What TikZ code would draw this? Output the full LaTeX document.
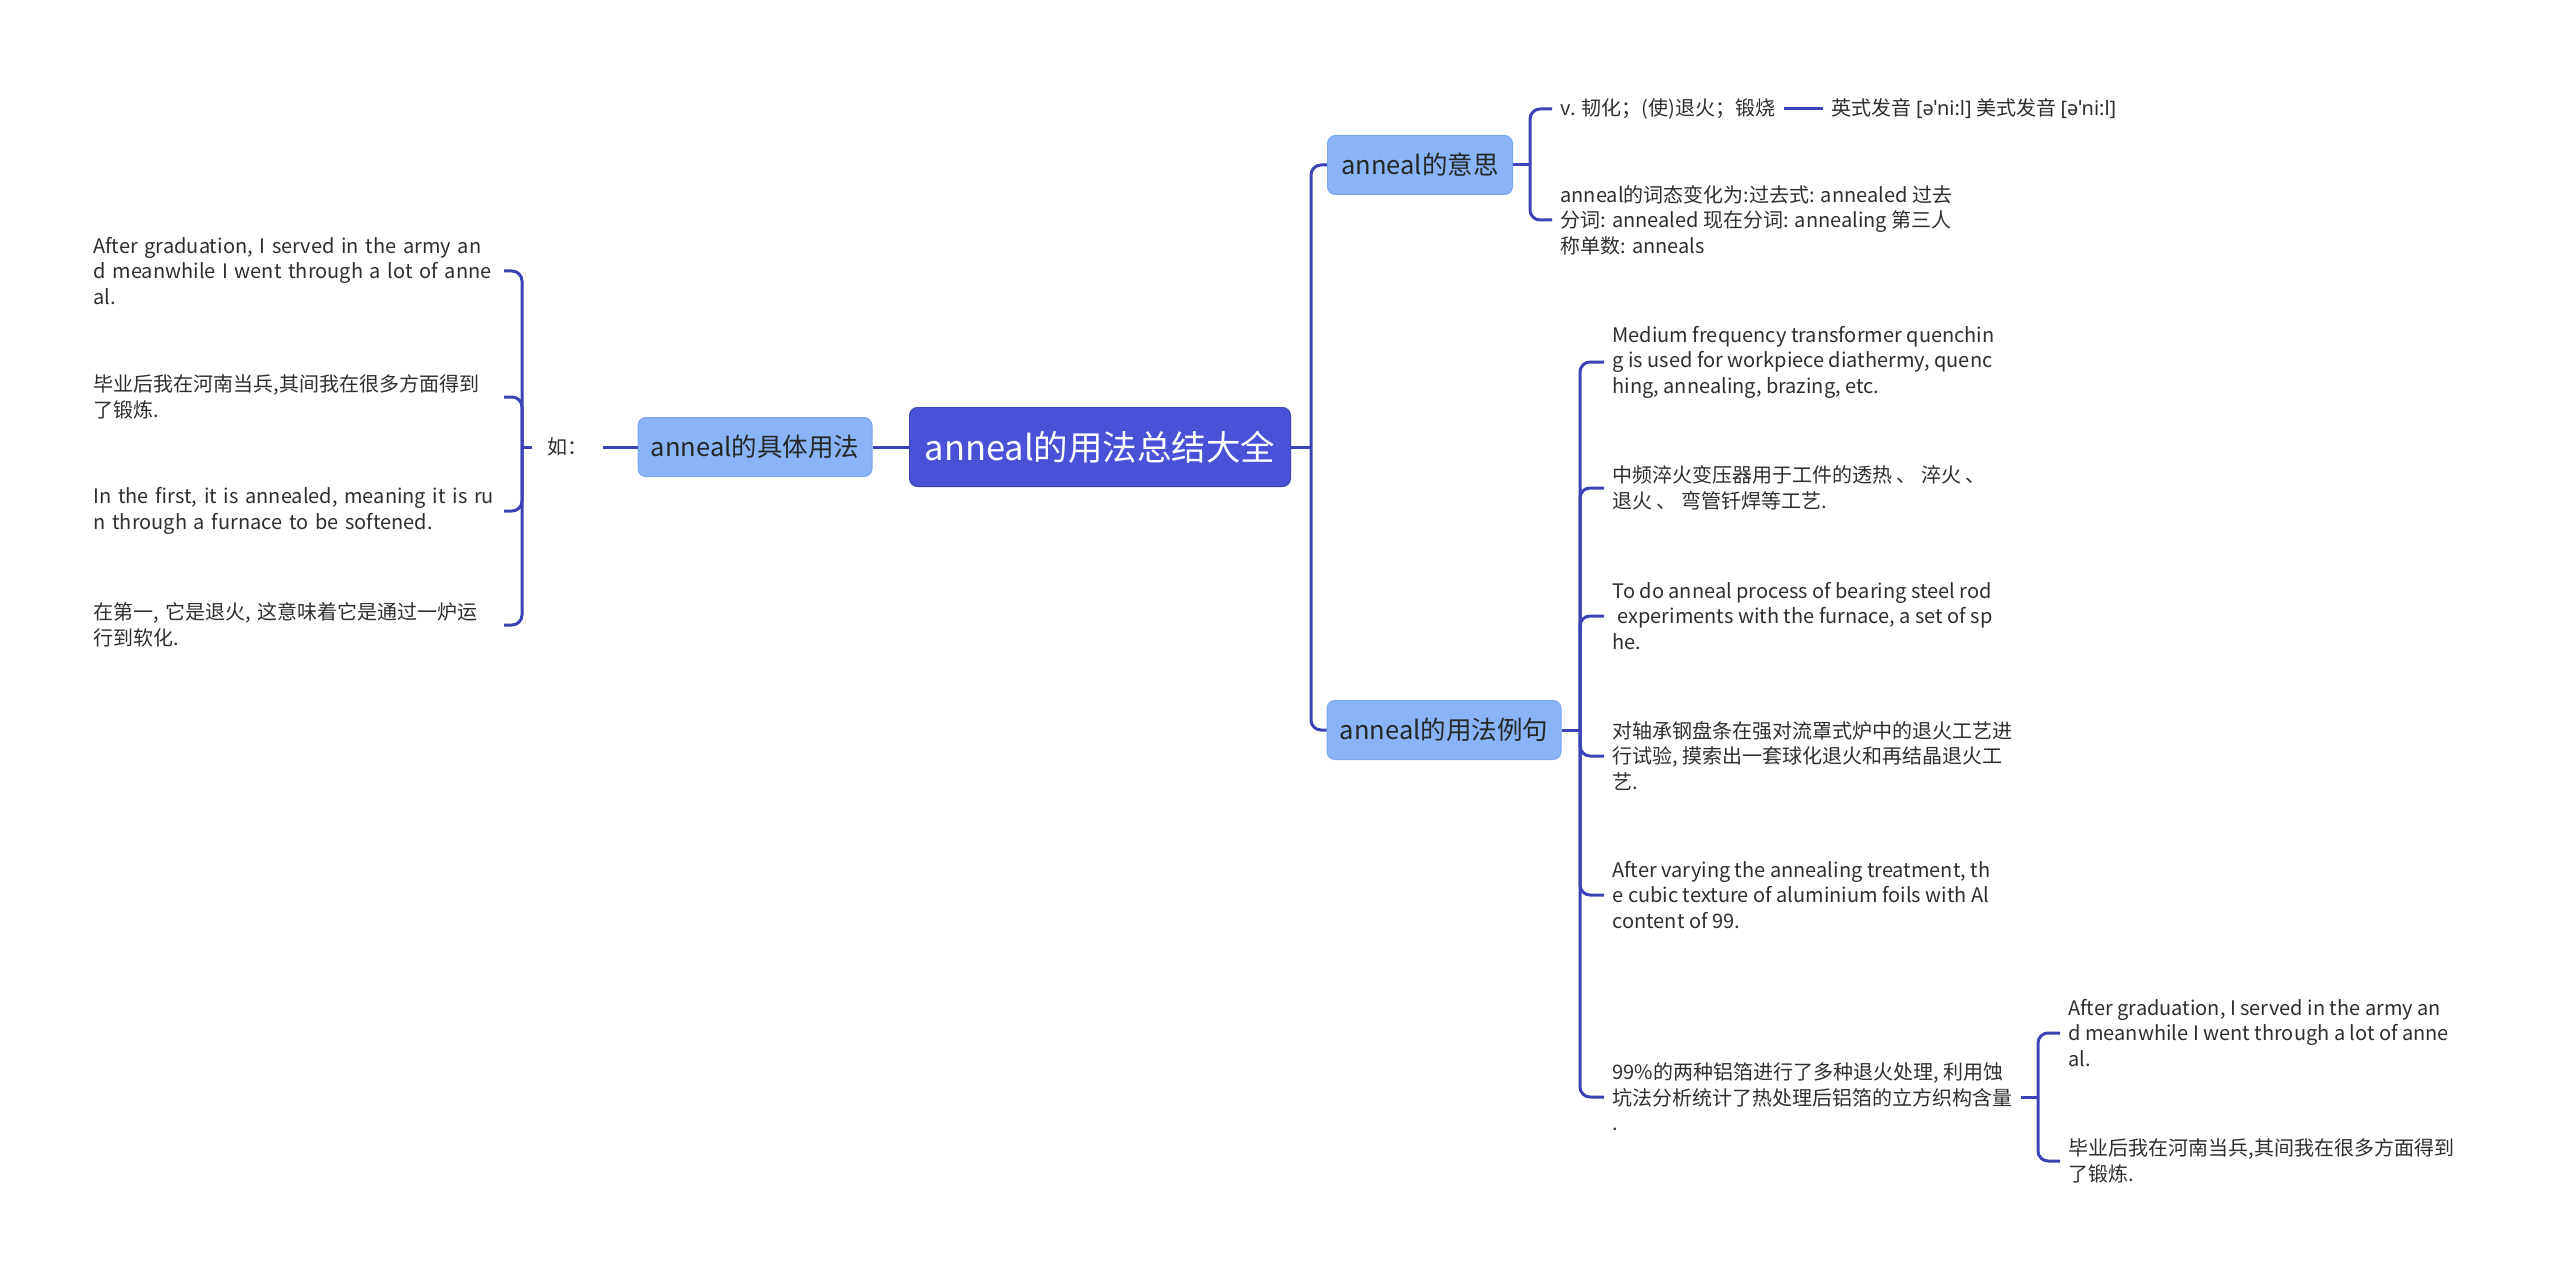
\documentclass[tikz,border=0pt]{standalone}
\usepackage{fontspec}
\setmainfont{Noto Sans CJK SC}
\newfontfamily\ipafont{Noto Sans}
\usepackage{tikz}

\definecolor{linecol}{HTML}{3B43B6}
\definecolor{rootfill}{HTML}{4A51D6}
\definecolor{subfill}{HTML}{8AB4F8}
\definecolor{subdraw}{HTML}{7AA6EE}
\definecolor{txtcol}{HTML}{2E2E2E}

\begin{document}
\begin{tikzpicture}[x=1pt,y=-1pt,line width=3pt,
		root node/.style={fill=rootfill,draw=linecol,line width=1pt,rounded corners=8pt,text=white,font=\fontsize{34.5}{40}\selectfont,inner xsep=4pt,minimum width=381pt,minimum height=79pt},
		sub node/.style={fill=subfill,draw=subdraw,line width=1pt,rounded corners=8pt,text=black!85,font=\fontsize{25.5}{30}\selectfont,inner xsep=4pt,minimum height=59pt},
		leaf node/.style={text=txtcol,font=\fontsize{20}{25.5}\selectfont,align=left,inner xsep=7pt,inner ysep=0pt},
		link/.style={draw=linecol,line width=3pt},
		elbow/.style={rounded corners=10pt,to path={(\tikztostart) |- (\tikztotarget)}}]
		
		\useasboundingbox (0,0) rectangle (2560,1281);
		
		\node[root node] (root) at (1100,447) {anneal的用法总结大全};
		\node[sub node, minimum width=234pt] (usage) at (755,447) {anneal的具体用法};
		\node[leaf node, inner xsep=14pt] (ru) at (567,447) {如：};
		\node[sub node, minimum width=185pt] (meaning) at (1420,165) {anneal的意思};
		\node[sub node, minimum width=234pt] (sample) at (1444,730) {anneal的用法例句};
		
		\coordinate (jl) at (522,447);
		\coordinate (jr) at (1311,447);
		\coordinate (jm) at (1530,165);
		\coordinate (js) at (1580,730);
		\coordinate (jt) at (2038,1097);
		
		% left side
		\node[leaf node, anchor=east, text width=402pt] (l1) at (504,271) {After graduation, I served in the army an\\d meanwhile I went through a lot of anne\\al.};
		\node[leaf node, anchor=east, text width=402pt] (l2) at (504,397) {毕业后我在河南当兵,其间我在很多方面得到\\了锻炼.};
		\node[leaf node, anchor=east, text width=402pt] (l3) at (504,511) {In the first, it is annealed, meaning it is ru\\n through a furnace to be softened.};
		\node[leaf node, anchor=east, text width=402pt] (l4) at (504,625) {在第一, 它是退火, 这意味着它是通过一炉运\\行到软化.};
		
		% meaning
		\node[leaf node, anchor=west] (m1) at (1552,109) {v. 韧化；(使)退火；锻烧};
		\node[leaf node, anchor=west] (pron) at (1823,109) {英式发音 {\ipafont[əˈni:l]} 美式发音 {\ipafont[əˈni:l]}};
		\node[leaf node, anchor=west] (m2) at (1552,220) {anneal的词态变化为:过去式: annealed 过去\\分词: annealed 现在分词: annealing 第三人\\称单数: anneals};
		
		% examples
		\node[leaf node, anchor=west] (e1) at (1604,362) {Medium frequency transformer quenchin\\g is used for workpiece diathermy, quenc\\hing, annealing, brazing, etc.};
		\node[leaf node, anchor=west] (e2) at (1604,488) {中频淬火变压器用于工件的透热 、 淬火 、\\退火 、 弯管钎焊等工艺.};
		\node[leaf node, anchor=west] (e3) at (1604,616) {To do anneal process of bearing steel rod\\\hspace*{0.25em}experiments with the furnace, a set of sp\\he.};
		\node[leaf node, anchor=west] (e4) at (1604,756) {对轴承钢盘条在强对流罩式炉中的退火工艺进\\行试验, 摸索出一套球化退火和再结晶退火工\\艺.};
		\node[leaf node, anchor=west] (e5) at (1604,895) {After varying the annealing treatment, th\\e cubic texture of aluminium foils with Al\\content of 99.};
		\node[leaf node, anchor=west] (e6) at (1604,1097) {99\%的两种铝箔进行了多种退火处理, 利用蚀\\坑法分析统计了热处理后铝箔的立方织构含量\\.};
		\node[leaf node, anchor=west] (s1) at (2060,1033) {After graduation, I served in the army an\\d meanwhile I went through a lot of anne\\al.};
		\node[leaf node, anchor=west] (s2) at (2060,1161) {毕业后我在河南当兵,其间我在很多方面得到\\了锻炼.};
		
		\path[link]
		(root) edge (usage)
		(usage) edge (ru)
		(ru.west) edge (jl)
		(jl) edge[elbow] (l1.east)
		edge[elbow] (l2.east)
		edge[elbow] (l3.east)
		edge[elbow] (l4.east)
		(root.east) edge (jr)
		(jr) edge[elbow] (meaning.west)
		edge[elbow] (sample.west)
		(meaning.east) edge (jm)
		(jm) edge[elbow] (m1.west)
		edge[elbow] (m2.west)
		(m1.east) edge (pron.west)
		(sample.east) edge (js)
		(js) edge[elbow] (e1.west)
		edge[elbow] (e2.west)
		edge[elbow] (e3.west)
		edge[elbow] (e4.west)
		edge[elbow] (e5.west)
		edge[elbow] (e6.west)
		(e6.east) edge (jt)
		(jt) edge[elbow] (s1.west)
		edge[elbow] (s2.west);
		
\end{tikzpicture}
\end{document}
